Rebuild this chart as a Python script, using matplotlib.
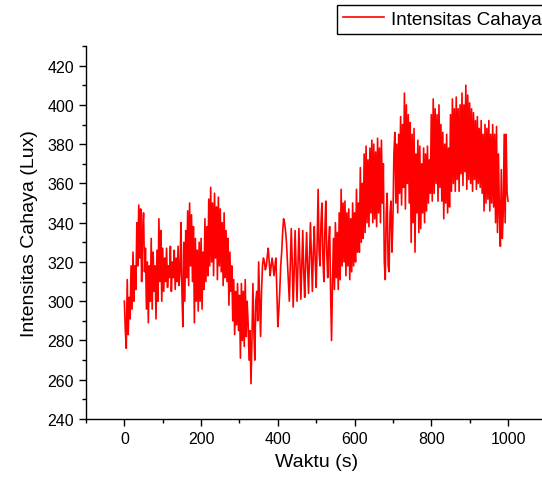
import numpy as np
import matplotlib
matplotlib.use("Agg")
import matplotlib.pyplot as plt
from matplotlib.ticker import MultipleLocator

# Intensitas cahaya (Lux), sampled every 2.5 s from 0 to 1000 s
intensitas = [
    300, 285, 276, 311, 283, 302, 291, 318, 296, 325, 300, 318, 306, 340, 318, 349, 322, 347, 310, 335,
    345, 315, 327, 296, 320, 289, 318, 300, 332, 296, 325, 305, 318, 291, 326, 300, 342, 310, 336, 300,
    327, 305, 322, 310, 327, 307, 318, 312, 328, 305, 320, 312, 326, 306, 322, 310, 328, 308, 315, 340,
    305, 287, 330, 300, 336, 312, 346, 308, 350, 318, 344, 310, 338, 289, 332, 300, 326, 295, 330, 300,
    332, 296, 325, 306, 342, 310, 338, 313, 352, 318, 358, 320, 350, 313, 355, 322, 348, 311, 353, 318,
    347, 315, 340, 308, 345, 312, 336, 310, 332, 298, 325, 305, 318, 290, 311, 283, 305, 288, 309, 285,
    303, 271, 309, 280, 305, 277, 311, 282, 300, 289, 270, 285, 258, 280, 309, 285, 270, 300, 305, 290,
    320, 300, 282, 305, 318, 322, 320, 316, 318, 323, 327, 320, 313, 318, 322, 318, 313, 318, 322, 305,
    287, 295, 305, 318, 325, 335, 342, 340, 336, 330, 320, 310, 300, 318, 337, 320, 297, 315, 336, 318,
    300, 318, 337, 320, 301, 318, 336, 315, 302, 320, 335, 318, 304, 322, 340, 322, 305, 325, 338, 320,
    307, 330, 357, 325, 318, 340, 350, 322, 310, 335, 351, 325, 312, 330, 338, 305, 280, 310, 332, 306,
    340, 312, 335, 306, 345, 311, 357, 318, 350, 320, 351, 313, 345, 318, 347, 311, 342, 315, 350, 318,
    345, 320, 357, 325, 350, 325, 368, 330, 360, 332, 375, 335, 379, 340, 372, 338, 378, 345, 382, 340,
    380, 342, 376, 338, 383, 345, 378, 340, 382, 350, 370, 320, 311, 345, 355, 318, 315, 345, 351, 325,
    342, 375, 386, 350, 380, 345, 385, 355, 394, 349, 390, 358, 406, 347, 400, 360, 395, 350, 391, 330,
    385, 340, 388, 325, 375, 345, 382, 335, 379, 337, 370, 345, 378, 340, 375, 346, 379, 350, 372, 355,
    395, 351, 403, 355, 398, 360, 395, 351, 400, 358, 390, 351, 386, 342, 380, 350, 385, 345, 378, 348,
    395, 356, 403, 360, 398, 356, 404, 362, 398, 356, 400, 365, 406, 359, 400, 366, 410, 357, 405, 362,
    401, 360, 398, 356, 396, 362, 392, 357, 394, 360, 388, 358, 392, 355, 385, 346, 390, 350, 388, 352,
    392, 346, 385, 350, 390, 348, 385, 340, 389, 335, 375, 345, 328, 367, 332, 345, 385, 340, 385, 355,
    351,
]
waktu = [i * 2.5 for i in range(len(intensitas))]

x_ticks = [0, 200, 400, 600, 800, 1000]
y_ticks = [240, 260, 280, 300, 320, 340, 360, 380, 400, 420]

plt.rcParams['font.family'] = ['Liberation Sans', 'DejaVu Sans']

fig = plt.figure(figsize=(5.42, 4.81), dpi=100)
ax = fig.add_axes([86/542, 61/481, 460.4/542, 373/481])

line, = ax.plot(waktu, intensitas, color='#ff0000', linewidth=1.2, label='Intensitas Cahaya')

ax.set_xlim(-100, 1100)
ax.set_ylim(240, 430)
ax.set_xticks(x_ticks)
ax.set_yticks(y_ticks)
ax.xaxis.set_minor_locator(MultipleLocator(100))
ax.yaxis.set_minor_locator(MultipleLocator(10))

for s in ['top', 'right']:
    ax.spines[s].set_visible(False)
for s in ['left', 'bottom']:
    ax.spines[s].set_linewidth(1.0)

ax.tick_params(which='major', direction='out', length=5, width=1, labelsize=11.5)
ax.tick_params(which='minor', direction='out', length=3, width=1)

ax.set_xlabel('Waktu (s)', fontsize=14, labelpad=5)
ax.set_ylabel('Intensitas Cahaya (Lux)', fontsize=14, labelpad=7)

leg = fig.legend(handles=[line], loc='upper left',
                 bbox_to_anchor=(337/542, 1 - 6/481), bbox_transform=fig.transFigure,
                 fancybox=False, framealpha=1, edgecolor='black', fontsize=13.6,
                 handlelength=2.2, borderpad=0.3, borderaxespad=0, handletextpad=0.35)
leg.get_frame().set_linewidth(1.0)

fig.savefig('out.png', dpi=100)
